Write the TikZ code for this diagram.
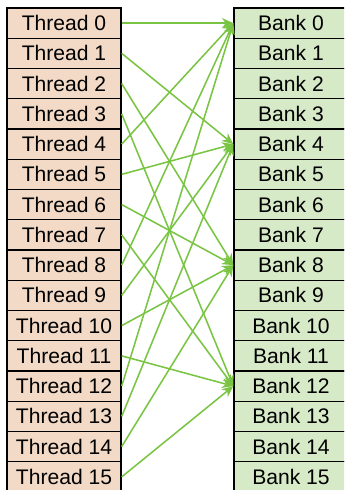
\documentclass[tikz,border=0pt]{standalone}
\usepackage{fontspec}
\setmainfont{Liberation Sans}
\usetikzlibrary{arrows.meta}

\definecolor{thrfill}{RGB}{242,218,198}
\definecolor{bankfill}{RGB}{215,234,200}
\definecolor{arrgreen}{RGB}{122,196,68}

\tikzset{
  thr/.style={draw,line width=1pt,fill=thrfill,minimum width=2.85cm,minimum height=0.756cm,inner sep=0pt,font=\fontsize{15}{17}\selectfont},
  bank/.style={draw,line width=1pt,fill=bankfill,minimum width=2.85cm,minimum height=0.756cm,inner sep=0pt,font=\fontsize{15}{17}\selectfont},
  conn/.style={arrgreen,line width=1.1pt,-{Stealth[length=8pt,width=7pt]}}
}

\begin{document}
\begin{tikzpicture}
 		\useasboundingbox (0,0) rectangle (8.6,-12.25);
 		\clip (0,0) rectangle (8.6,-12.25);

 		\node[thr] (t0) at (1.6,-0.578) {Thread 0};
 		\node[thr] (t1) at (1.6,-1.334) {Thread 1};
 		\node[thr] (t2) at (1.6,-2.090) {Thread 2};
 		\node[thr] (t3) at (1.6,-2.847) {Thread 3};
 		\node[thr] (t4) at (1.6,-3.603) {Thread 4};
 		\node[thr] (t5) at (1.6,-4.359) {Thread 5};
 		\node[thr] (t6) at (1.6,-5.115) {Thread 6};
 		\node[thr] (t7) at (1.6,-5.872) {Thread 7};
 		\node[thr] (t8) at (1.6,-6.628) {Thread 8};
 		\node[thr] (t9) at (1.6,-7.384) {Thread 9};
 		\node[thr] (t10) at (1.6,-8.140) {Thread 10};
 		\node[thr] (t11) at (1.6,-8.897) {Thread 11};
 		\node[thr] (t12) at (1.6,-9.653) {Thread 12};
 		\node[thr] (t13) at (1.6,-10.409) {Thread 13};
 		\node[thr] (t14) at (1.6,-11.165) {Thread 14};
 		\node[thr] (t15) at (1.6,-11.922) {Thread 15};

 		\node[bank] (b0) at (7.275,-0.578) {Bank 0};
 		\node[bank] (b1) at (7.275,-1.334) {Bank 1};
 		\node[bank] (b2) at (7.275,-2.090) {Bank 2};
 		\node[bank] (b3) at (7.275,-2.847) {Bank 3};
 		\node[bank] (b4) at (7.275,-3.603) {Bank 4};
 		\node[bank] (b5) at (7.275,-4.359) {Bank 5};
 		\node[bank] (b6) at (7.275,-5.115) {Bank 6};
 		\node[bank] (b7) at (7.275,-5.872) {Bank 7};
 		\node[bank] (b8) at (7.275,-6.628) {Bank 8};
 		\node[bank] (b9) at (7.275,-7.384) {Bank 9};
 		\node[bank] (b10) at (7.275,-8.140) {Bank 10};
 		\node[bank] (b11) at (7.275,-8.897) {Bank 11};
 		\node[bank] (b12) at (7.275,-9.653) {Bank 12};
 		\node[bank] (b13) at (7.275,-10.409) {Bank 13};
 		\node[bank] (b14) at (7.275,-11.165) {Bank 14};
 		\node[bank] (b15) at (7.275,-11.922) {Bank 15};

 		\draw[conn] (t0.east) -- (b0.west);
 		\draw[conn] (t1.east) -- (b4.west);
 		\draw[conn] (t2.east) -- (b8.west);
 		\draw[conn] (t3.east) -- (b12.west);
 		\draw[conn] (t4.east) -- (b0.west);
 		\draw[conn] (t5.east) -- (b4.west);
 		\draw[conn] (t6.east) -- (b8.west);
 		\draw[conn] (t7.east) -- (b12.west);
 		\draw[conn] (t8.east) -- (b0.west);
 		\draw[conn] (t9.east) -- (b4.west);
 		\draw[conn] (t10.east) -- (b8.west);
 		\draw[conn] (t11.east) -- (b12.west);
 		\draw[conn] (t12.east) -- (b0.west);
 		\draw[conn] (t13.east) -- (b4.west);
 		\draw[conn] (t14.east) -- (b8.west);
 		\draw[conn] (t15.east) -- (b12.west);
\end{tikzpicture}
\end{document}
